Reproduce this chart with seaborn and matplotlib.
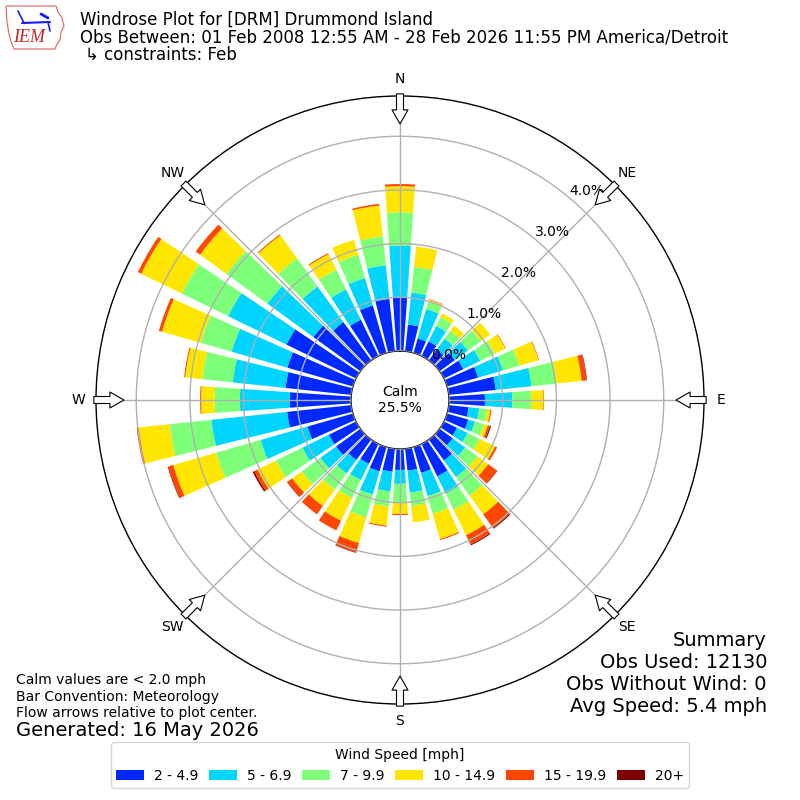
import numpy as np
import matplotlib
matplotlib.use("Agg")
import matplotlib.pyplot as plt
from matplotlib.patches import Patch, Polygon
from matplotlib.lines import Line2D
import seaborn as sns

# wind directions (deg, meteorological) and frequency (%) per speed bin
directions = np.arange(0, 360, 10)
speed_labels = ["2 - 4.9", "5 - 6.9", "7 - 9.9", "10 - 14.9", "15 - 19.9", "20+"]

pct_2_5 = [0.99, 0.50, 0.28, 0.30, 0.25, 0.35, 0.40, 0.60, 0.88, 0.67, 0.37, 0.41,
           0.27, 0.30, 0.48, 0.67, 0.50, 0.41, 0.39, 0.43, 0.47, 0.41, 0.47, 0.56,
           0.56, 0.88, 1.20, 1.14, 1.23, 1.27, 1.44, 1.08, 0.88, 0.75, 0.92, 0.98]
pct_5_7 = [0.97, 0.60, 0.57, 0.32, 0.25, 0.30, 0.35, 0.48, 0.67, 0.51, 0.20, 0.13,
           0.22, 0.29, 0.38, 0.36, 0.45, 0.41, 0.26, 0.37, 0.45, 0.34, 0.31, 0.36,
           0.55, 0.91, 1.42, 0.93, 0.99, 1.08, 1.21, 1.06, 0.82, 0.63, 0.53, 0.63]
pct_7_10 = [0.62, 0.48, 0.15, 0.18, 0.18, 0.30, 0.30, 0.32, 0.47, 0.35, 0.15, 0.17,
            0.25, 0.28, 0.43, 0.33, 0.34, 0.25, 0.36, 0.28, 0.44, 0.37, 0.37, 0.43,
            0.55, 0.86, 0.78, 0.47, 0.57, 0.60, 0.96, 0.94, 0.65, 0.41, 0.45, 0.54]
pct_10_15 = [0.49, 0.38, 0.03, 0.08, 0.12, 0.21, 0.22, 0.37, 0.47, 0.23, 0.06, 0.08,
             0.32, 0.25, 0.43, 0.53, 0.49, 0.31, 0.20, 0.36, 0.50, 0.47, 0.38, 0.22,
             0.38, 0.83, 0.58, 0.25, 0.32, 0.75, 0.84, 0.61, 0.53, 0.32, 0.29, 0.58]
pct_15_20 = [0.04, 0.00, 0.01, 0.00, 0.00, 0.00, 0.01, 0.01, 0.09, 0.01, 0.02, 0.04,
             0.04, 0.20, 0.31, 0.19, 0.02, 0.00, 0.02, 0.02, 0.18, 0.20, 0.19, 0.11,
             0.07, 0.10, 0.04, 0.02, 0.02, 0.06, 0.07, 0.10, 0.02, 0.02, 0.00, 0.03]
pct_20 = [0.00, 0.00, 0.00, 0.00, 0.00, 0.00, 0.00, 0.00, 0.01, 0.00, 0.00, 0.02,
          0.00, 0.01, 0.02, 0.02, 0.00, 0.00, 0.00, 0.00, 0.01, 0.00, 0.00, 0.01,
          0.03, 0.01, 0.00, 0.00, 0.00, 0.00, 0.00, 0.00, 0.00, 0.00, 0.00, 0.00]
speed_bins = [pct_2_5, pct_5_7, pct_7_10, pct_10_15, pct_15_20, pct_20]

calm_pct = 25.5
compass = ["N", "NE", "E", "SE", "S", "SW", "W", "NW"]
rticks = [0, 1, 2, 3, 4]

sns.set_style("white")
plt.rcParams["font.family"] = ["DejaVu Sans"]
for key in ["text.color", "axes.labelcolor", "xtick.color", "ytick.color"]:
    plt.rcParams[key] = "black"
colors = sns.color_palette(list(plt.get_cmap("jet")(np.arange(1, 7) / 6.0)))

fig = plt.figure(figsize=(8, 8), dpi=100)
ax = fig.add_axes([0.12, 0.12, 0.76, 0.76], projection="polar")
ax.set_theta_zero_location("N")
ax.set_theta_direction(-1)

theta = np.deg2rad(directions)
bottom = np.zeros(len(directions))
for vals, c in zip(speed_bins, colors):
    sns.barplot(x=theta, y=vals, native_scale=True, errorbar=None, color=c,
                saturation=1, width=0.8, bottom=bottom, linewidth=0, ax=ax)
    bottom = bottom + np.array(vals)

ax.set_xlabel("")
ax.set_ylabel("")
ax.set_ylim(0, 4.75)
ax.set_rorigin(-0.913)
ax.set_yticks(rticks)
ax.set_yticklabels([f"{v:.1f}%" for v in rticks], fontsize=10)
ax.set_rlabel_position(40)
ax.set_xticks(np.deg2rad(np.arange(0, 360, 45)))
ax.set_xticklabels(compass)
ax.tick_params(axis="x", pad=2, labelsize=10)
ax.grid(True, color="#b0b0b0", linewidth=1.0)
ax.set_axisbelow(False)
ax.spines["polar"].set_color("k")
ax.spines["polar"].set_linewidth(1.0)
ax.spines["inner"].set_color("k")
ax.spines["inner"].set_linewidth(1.0)

# flow arrows at the compass points
for ang in np.deg2rad(np.arange(0, 360, 45)):
    ax.annotate("", xy=(ang, 4.23), xytext=(ang, 4.79), annotation_clip=False,
                arrowprops=dict(arrowstyle="simple,head_length=0.72,head_width=0.82,tail_width=0.36",
                                fc="white", ec="k", lw=0.8, shrinkA=0, shrinkB=0,
                                mutation_scale=14))

ax.text(0.5, 0.5, f"Calm\n{calm_pct:.1f}%", transform=ax.transAxes,
        ha="center", va="center", fontsize=10)

# header
fig.text(80 / 800, 1 - 20 / 800, "Windrose Plot for [DRM] Drummond Island", fontsize=12, va="center")
fig.text(80 / 800, 1 - 38 / 800,
         "Obs Between: 01 Feb 2008 12:55 AM - 28 Feb 2026 11:55 PM America/Detroit",
         fontsize=12, va="center")
fig.text(85 / 800, 1 - 55 / 800, "\u21b3 constraints: Feb", fontsize=12, va="center")

# rough IEM logo
outline = np.array([[6, 6], [56, 6], [58, 12], [62, 18], [64, 26], [61, 32], [60, 40],
                    [57, 44], [55, 49], [14, 49], [11, 42], [9, 34], [7, 22]], dtype=float)
outline[:, 0] /= 800
outline[:, 1] = 1 - outline[:, 1] / 800
fig.add_artist(Polygon(outline, closed=True, fill=False, ec="#e06060", lw=0.8))
fig.add_artist(Line2D([22 / 800, 50 / 800], [1 - 23 / 800, 1 - 22 / 800], color="#1a1aff", lw=1.5))
fig.add_artist(Line2D([18 / 800, 24 / 800], [1 - 11 / 800, 1 - 23 / 800], color="#1a1aff", lw=1.2))
fig.add_artist(Line2D([41 / 800, 48 / 800], [1 - 14 / 800, 1 - 18 / 800], color="#1a1aff", lw=2.0))
fig.add_artist(Line2D([48 / 800, 50 / 800], [1 - 22 / 800, 1 - 31 / 800], color="#1a1aff", lw=1.2))
fig.text(29 / 800, 1 - 38 / 800, "IEM", color="#cc2222", fontsize=13, style="italic",
         family="Liberation Serif", ha="center", va="center")

# footnotes
fig.text(16 / 800, 1 - 680 / 800, "Calm values are < 2.0 mph", fontsize=10, va="center")
fig.text(16 / 800, 1 - 697 / 800, "Bar Convention: Meteorology", fontsize=10, va="center")
fig.text(16 / 800, 1 - 713 / 800, "Flow arrows relative to plot center.", fontsize=10, va="center")
fig.text(16 / 800, 1 - 730 / 800, "Generated: 16 May 2026", fontsize=14, va="center")

summary = ["Summary", "Obs Used: 12130", "Obs Without Wind: 0", "Avg Speed: 5.4 mph"]
for i, line in enumerate(summary):
    fig.text(767 / 800, 1 - (640 + 22 * i) / 800, line, fontsize=14, ha="right", va="center")

handles = [Patch(facecolor=c, edgecolor="none") for c in colors]
fig.legend(handles, speed_labels, loc="lower center", bbox_to_anchor=(0.5, 0.006), ncol=6,
           title="Wind Speed [mph]", fontsize=10, title_fontsize=10, frameon=True,
           handlelength=2.0, handletextpad=0.7, columnspacing=0.8)

fig.savefig("out.png", dpi=100)
